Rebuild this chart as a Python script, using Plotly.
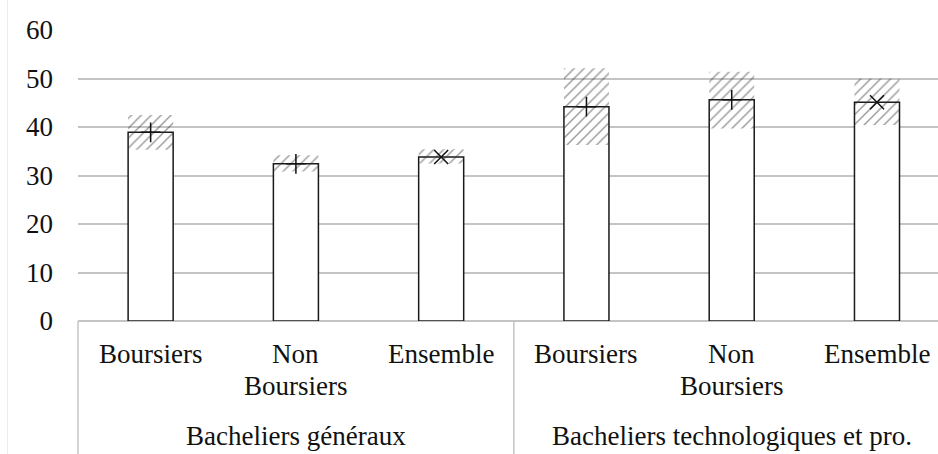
import plotly.graph_objects as go

# ---- data ----
groups = ["Bacheliers généraux", "Bacheliers technologiques et pro."]
cat_line1 = ["Boursiers", "Non", "Ensemble", "Boursiers", "Non", "Ensemble"]
cat_line2 = ["", "Boursiers", "", "", "Boursiers", ""]
values = [38.9, 32.4, 33.8, 44.2, 45.6, 45.1]
ci_low = [35.3, 30.8, 32.5, 36.3, 39.7, 40.4]
ci_high = [42.5, 34.2, 35.4, 52.1, 51.4, 50.0]
marker_kind = ["cross-thin", "cross-thin", "x-thin", "cross-thin", "cross-thin", "x-thin"]
y_ticks = [0, 10, 20, 30, 40, 50, 60]

xpos = list(range(len(values)))
FONT = "Liberation Serif"
FS = 27
GRID = "#c4c4c4"

fig = go.Figure()

# main bars
fig.add_trace(go.Bar(
    x=xpos, y=values, width=0.31,
    marker=dict(color="white", line=dict(color="#1a1a1a", width=1.5)),
    showlegend=False, hoverinfo="skip",
))

# hatched confidence intervals
fig.add_trace(go.Bar(
    x=xpos, y=[h - l for h, l in zip(ci_high, ci_low)], base=ci_low, width=0.31,
    marker=dict(color="rgba(0,0,0,0)", line=dict(width=0),
                pattern=dict(shape="/", fgcolor="#333333", bgcolor="rgba(0,0,0,0)",
                             size=7, solidity=0.2, fillmode="overlay")),
    showlegend=False, hoverinfo="skip",
))

# point markers
fig.add_trace(go.Scatter(
    x=xpos, y=values, mode="markers",
    marker=dict(symbol=marker_kind, size=14, color="#111",
                line=dict(color="#111", width=1.5)),
    showlegend=False, hoverinfo="skip",
))

x_range = [-0.5, 5.42]
span = x_range[1] - x_range[0]


def px(v):
    return (v - x_range[0]) / span


txt = dict(family=FONT, size=FS, color="#111")
annotations = []
for i in xpos:
    annotations.append(dict(x=i, y=-0.115, xref="x", yref="paper", text=cat_line1[i],
                            showarrow=False, yanchor="middle", font=txt))
    if cat_line2[i]:
        annotations.append(dict(x=i, y=-0.222, xref="x", yref="paper", text=cat_line2[i],
                                showarrow=False, yanchor="middle", font=txt))
for g, name in enumerate(groups):
    annotations.append(dict(x=g * 3 + 1, y=-0.395, xref="x", yref="paper", text=name,
                            showarrow=False, yanchor="middle", font=txt))

shapes = [
    # category axis box
    dict(type="line", xref="paper", yref="paper", x0=0, x1=0, y0=0, y1=-0.46,
         line=dict(color=GRID, width=1.5)),
    dict(type="line", xref="paper", yref="paper", x0=px(2.5), x1=px(2.5), y0=0, y1=-0.46,
         line=dict(color=GRID, width=1.5)),
    # faint image border
    dict(type="line", xref="paper", yref="paper", x0=-0.082, x1=-0.082, y0=-0.46, y1=1.11,
         line=dict(color="#ececec", width=1)),
]

fig.update_layout(
    width=938, height=454,
    margin=dict(l=78, r=0, t=30, b=133),
    paper_bgcolor="white", plot_bgcolor="white",
    barmode="overlay",
    xaxis=dict(range=x_range, showticklabels=False, showgrid=False, zeroline=False,
               showline=False, ticks=""),
    yaxis=dict(range=[0, 60], tickvals=y_ticks, showgrid=True, gridcolor=GRID, gridwidth=1.5,
               zeroline=True, zerolinecolor=GRID, zerolinewidth=1.5, showline=False,
               ticks="", ticklabelstandoff=24, tickfont=txt),
    annotations=annotations,
    shapes=shapes,
)

fig.write_html("out.html", config={"displayModeBar": False},
               post_script="document.body.style.margin='0';document.body.style.overflow='hidden';")
